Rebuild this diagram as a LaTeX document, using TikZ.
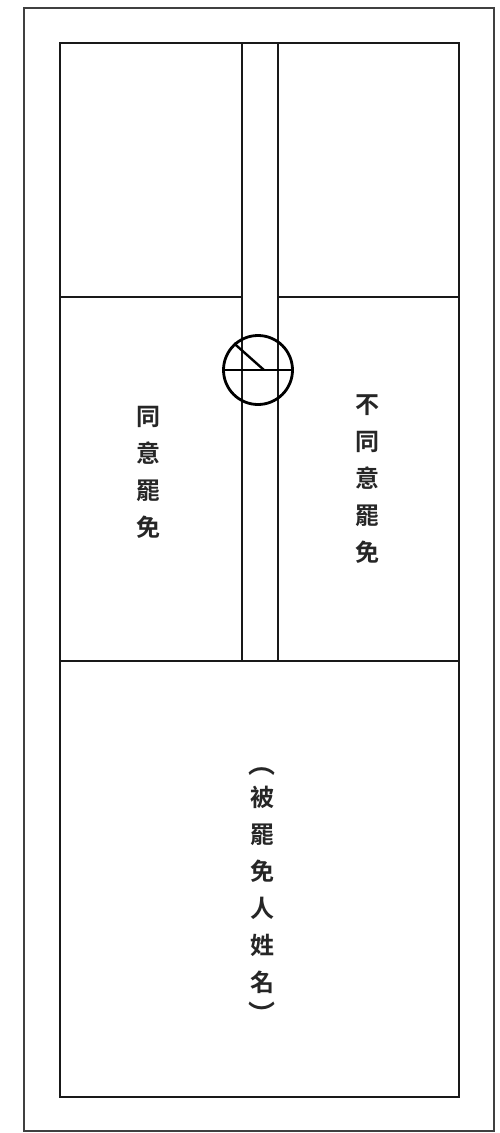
\documentclass[tikz,border=0pt]{standalone}
\usepackage{fontspec}
\newfontfamily\cjk{Noto Sans CJK TC Bold}
\begin{document}
\begin{tikzpicture}[x=1pt,y=-1pt,
  frame/.style={draw=black!75,line width=2.2pt},
  cell/.style={draw=black!90,line width=2.2pt},
  vtext/.style={font=\cjk\fontsize{24}{37}\selectfont,align=center,inner sep=0pt,text=black!85},
  paren/.style={font=\cjk\fontsize{27}{27}\selectfont,inner sep=0pt,text=black!85}]
\useasboundingbox (0,0) rectangle (499,1133);
% outer frame
\draw[frame] (24,8) rectangle (494,1131);
% inner frame
\draw[cell] (60,43) rectangle (459,1097);
% central strip
\draw[cell] (242,43) -- (242,661);
\draw[cell] (278,43) -- (278,661);
% horizontal dividers
\draw[cell] (60,297) -- (242,297);
\draw[cell] (278,297) -- (459,297);
\draw[cell] (60,661) -- (459,661);
% seal symbol
\node[circle,draw,line width=2.8pt,minimum size=69pt,inner sep=0pt,fill=none] (seal) at (258,370) {};
\draw[line width=2.4pt] (seal.west) -- (seal.east);
\draw[line width=2.4pt] (seal.132) -- (264,370);
% texts
\node[vtext] (agree) at (148,472) {同\\意\\罷\\免};
\node[vtext] (disagree) at (367,479) {不\\同\\意\\罷\\免};
\node[vtext] (name) at (262,890) {被\\罷\\免\\人\\姓\\名};
\node[paren] (lp) at (262,772) {︵};
\node[paren] (rp) at (262,1013) {︶};
\end{tikzpicture}
\end{document}
